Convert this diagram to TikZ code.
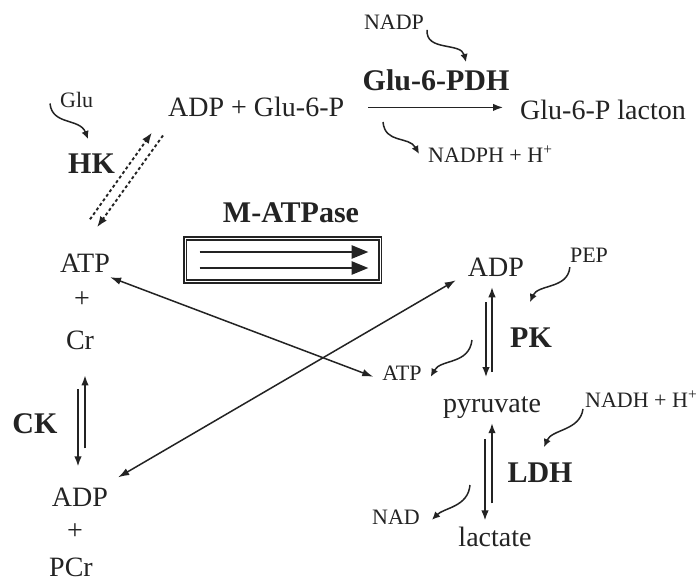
\documentclass[tikz,border=0pt]{standalone}
\usepackage{fontspec}
\setmainfont{Liberation Serif}
\usetikzlibrary{arrows.meta,calc}
\definecolor{ink}{RGB}{35,35,35}
\tikzset{
  main/.style={font=\fontsize{28}{30}\selectfont, inner sep=0pt, anchor=base, text=ink},
  small/.style={font=\fontsize{22}{24}\selectfont, inner sep=0pt, anchor=base, text=ink},
  enz/.style={font=\fontsize{30}{32}\selectfont\bfseries, inner sep=0pt, anchor=base, text=ink},
  rxn/.style={draw=ink, line width=1.5pt, -{Latex[length=10pt,width=7.5pt]}},
  both/.style={draw=ink, line width=1.5pt, {Latex[length=11pt,width=7.5pt]}-{Latex[length=11pt,width=7.5pt]}},
  cof/.style={draw=ink, line width=1.5pt, -{Latex[length=8pt,width=7.5pt]}},
  hkdots/.style={draw=ink, line width=1.9pt, dash pattern=on 3pt off 2.6pt, -{Latex[length=11pt,width=8pt]}},
  pump/.style={draw=ink, line width=2.8pt, -{Triangle[length=17pt,width=13pt]}},
  pumpbox/.style={draw=ink, double=white, line width=1.6pt, double distance=0.9pt,
    minimum width=195pt, minimum height=43pt, inner sep=0pt},
}
\begin{document}
\begin{tikzpicture}[x=1pt,y=-1pt]
\fill[white] (0,0) rectangle (699,584);
\useasboundingbox (0,0) rectangle (699,584);

% --- hexokinase / Glu-6-P dehydrogenase line ---
\node[small] (nadp) at (394,29) {NADP};
\node[enz] (g6pdh) at (436,90) {Glu-6-PDH};
\node[main, anchor=base west] (adpglu) at (168,116) {ADP + Glu-6-P};
\node[main, anchor=base west] (lacton) at (520,119) {Glu-6-P lacton};
\node[small, anchor=base west] (glu) at (60,107) {Glu};
\node[small, anchor=base west] (nadph) at (428,162) {NADPH + H\textsuperscript{+}};
\node[enz, anchor=base west] (hk) at (68,173) {HK};

% --- myosin ATPase ---
\node[enz] (matp) at (291,222) {M-ATPase};
\node[pumpbox] (box) at (282.5,260) {};

% --- creatine kinase column ---
\node[main] (atpL) at (85,272) {ATP};
\node[main] (plus1) at (82,307) {+};
\node[main] (cr) at (80,349) {Cr};
\node[enz] (ck) at (35,433) {CK};
\node[main] (adpL) at (80,506) {ADP};
\node[main] (plus2) at (75,539) {+};
\node[main] (pcr) at (71,576) {PCr};

% --- pyruvate kinase / lactate dehydrogenase column ---
\node[main] (adpR) at (496,276) {ADP};
\node[small] (pep) at (589,262) {PEP};
\node[enz] (pk) at (531,347) {PK};
\node[small] (atpS) at (402,380) {ATP};
\node[main] (pyr) at (492,412) {pyruvate};
\node[small, anchor=base west] (nadh) at (585,407) {NADH + H\textsuperscript{+}};
\node[enz] (ldh) at (540,482) {LDH};
\node[small] (nad) at (396,524) {NAD};
\node[main] (lac) at (495,546) {lactate};

% free ends of the cofactor arrows
\coordinate (hkin) at (88,139);
\coordinate (g6in) at (466,62);
\coordinate (g6out) at (383,122);
\coordinate (pkin) at (530,302);
\coordinate (pkout) at (472,340);
\coordinate (ldhin) at (544,447);
\coordinate (ldhout) at (470,485);

% Glu-6-P -> lacton
\draw[rxn] ($(adpglu.east)+(24,1)$) -- ($(lacton.west)+(-17,-2)$);

% HK (dotted, both directions)
\draw[hkdots] ($(atpL.north)+(5,-34)$) -- ($(adpglu.south west)+(-16,16)$);
\draw[hkdots] ($(adpglu.south west)+(-5,19)$) -- ($(atpL.north)+(12,-26)$);

% ATPase arrows in the box
\draw[pump] ($(box.center)+(-83,-8)$) -- ($(box.center)+(86,-8)$);
\draw[pump] ($(box.center)+(-83,8)$) -- ($(box.center)+(86,8)$);

% CK equilibrium
\draw[rxn] ($(cr.south)+(-2,40)$) -- ($(adpL.north)+(-2,-21)$);
\draw[rxn] ($(cr.south)+(5,99)$) -- ($(cr.south)+(5,26)$);

% PK equilibrium
\draw[rxn] ($(adpR.south)+(-10,26)$) -- ($(pyr.north)+(-6,-19)$);
\draw[rxn] ($(pyr.north)+(0,-24)$) -- ($(adpR.south)+(-4,11)$);

% LDH equilibrium
\draw[rxn] ($(pyr.south)+(-7,21)$) -- ($(lac.north)+(-10,-6)$);
\draw[rxn] ($(lac.north)+(-3,-23)$) -- ($(pyr.south)+(0,5)$);

% crossing ATP / ADP exchange
\draw[both] ($(atpL.south east)+(0,5)$) -- ($(atpS.west)+(-9,4)$);
\draw[both] ($(adpL.north east)+(10,-10)$) -- ($(adpR.south west)+(-12,4)$);

% cofactor arrows
\draw[cof] ($(glu.west)+(-10,4)$) .. controls ($(glu.west)+(-8,26)$) and ($(hkin)+(-8,-21)$) .. (hkin);
\draw[cof] ($(nadp.east)+(3,8)$) .. controls ($(nadp.east)+(1,30)$) and ($(g6in)+(-5,-20)$) .. (g6in);
\draw[cof] (g6out) .. controls ($(g6out)+(2,22)$) and ($(nadph.west)+(-19,-18)$) .. ($(nadph.west)+(-9,0)$);
\draw[cof] ($(pep.south west)+(0,5)$) .. controls ($(pep.south west)+(-2,27)$) and ($(pkin)+(8,-18)$) .. (pkin);
\draw[cof] (pkout) .. controls ($(pkout)+(-3,25)$) and ($(atpS.east)+(19,-14)$) .. ($(atpS.east)+(9,4)$);
\draw[cof] ($(nadh.west)+(-2,10)$) .. controls ($(nadh.west)+(-5,32)$) and ($(ldhin)+(8,-18)$) .. (ldhin);
\draw[cof] (ldhout) .. controls ($(ldhout)+(-2,22)$) and ($(nad.east)+(24,-9)$) .. ($(nad.east)+(12,3)$);
\end{tikzpicture}
\end{document}
